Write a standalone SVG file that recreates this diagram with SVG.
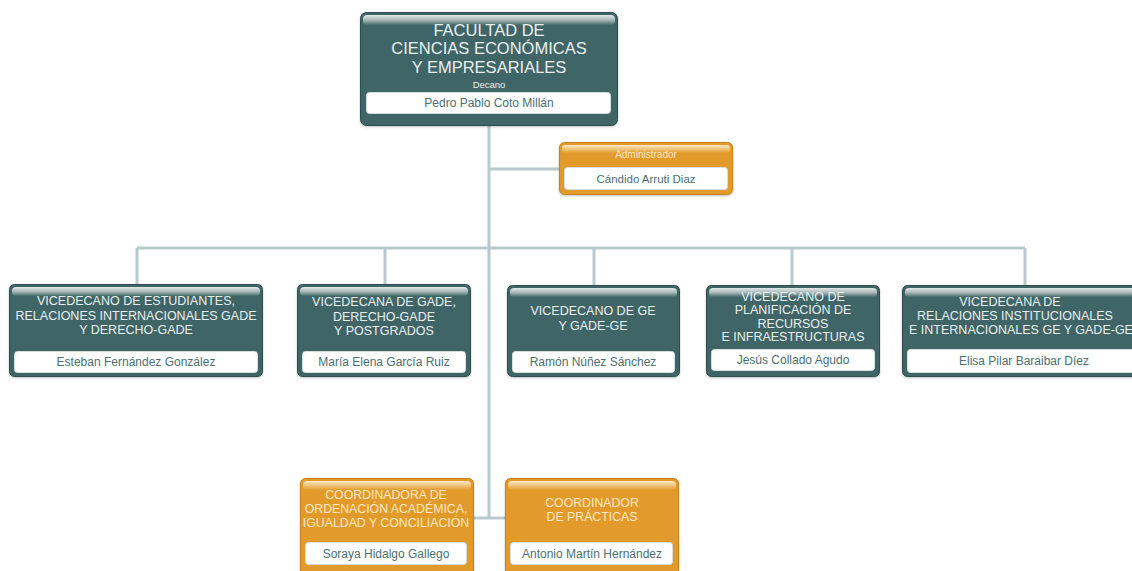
<svg xmlns="http://www.w3.org/2000/svg" width="1132" height="571" viewBox="0 0 1132 571">
<defs>
<linearGradient id="gT" x1="0" y1="0" x2="0" y2="1">
<stop offset="0" stop-color="#e2e7e7"/><stop offset="0.5" stop-color="#a9b9b9"/><stop offset="1" stop-color="#456a6b"/>
</linearGradient>
<linearGradient id="gO" x1="0" y1="0" x2="0" y2="1">
<stop offset="0" stop-color="#fde9c8"/><stop offset="0.5" stop-color="#f2c47a"/><stop offset="1" stop-color="#e29b2b"/>
</linearGradient>
<filter id="sh" x="-5%" y="-5%" width="110%" height="115%">
<feDropShadow dx="0" dy="1" stdDeviation="1" flood-color="#000" flood-opacity="0.25"/>
</filter>
</defs>
<style>
.t{fill:#3f6566;stroke:#2f4e4f;stroke-width:1;filter:url(#sh)}
.o{fill:#e29b2b;stroke:#c6821a;stroke-width:1;filter:url(#sh)}
.w{fill:#ffffff;stroke:#d6dede;stroke-width:1}
.tt{font-family:"Liberation Sans",Arial,sans-serif;font-size:12.5px;fill:#e8efef;text-anchor:middle}
.ot{font-family:"Liberation Sans",Arial,sans-serif;font-size:12.3px;fill:#fde6c4;text-anchor:middle}
.n{font-family:"Liberation Sans",Arial,sans-serif;font-size:12px;fill:#4a7072;text-anchor:middle}
.c{fill:none;stroke:#b9cacc;stroke-width:3}
</style>
<rect width="1132" height="571" fill="#ffffff"/>
<g id="connectors">
<path class="c" d="M489 125V518M489 169H560M137 248H1025M137 248V284M385 248V284M594 248V285M792 248V285M1025 248V285M473 518H505"/>
</g>
<g id="decano">
<rect class="t" x="360.5" y="12.5" width="257" height="113" rx="6"/>
<rect x="363" y="15" width="252" height="10" rx="4" fill="url(#gT)"/>
<text class="tt" x="489" y="36" style="font-size:16.5px">FACULTAD DE</text>
<text class="tt" x="489" y="54" style="font-size:16.5px">CIENCIAS ECONÓMICAS</text>
<text class="tt" x="489" y="73" style="font-size:16.5px">Y EMPRESARIALES</text>
<text class="tt" x="489" y="87.5" style="font-size:9.5px">Decano</text>
<rect class="w" x="366.5" y="92.5" width="244" height="21" rx="3"/>
<text class="n" x="489" y="107">Pedro Pablo Coto Millán</text>
</g>
<g id="administrador">
<rect class="o" x="559.5" y="142.5" width="173" height="52" rx="5"/>
<rect x="562" y="145" width="168" height="8" rx="3" fill="url(#gO)"/>
<text class="ot" x="646" y="158" style="font-size:10px">Administrador</text>
<rect class="w" x="564.5" y="167.5" width="163" height="22" rx="3"/>
<text class="n" x="646" y="183" style="font-size:11.5px">Cándido Arruti Diaz</text>
</g>
<g id="vice1">
<rect class="t" x="9.5" y="284.5" width="253" height="92" rx="5"/>
<rect x="12" y="287" width="248" height="9" rx="4" fill="url(#gT)"/>
<text class="tt" x="136" y="305">VICEDECANO DE ESTUDIANTES,</text>
<text class="tt" x="136" y="319.5">RELACIONES INTERNACIONALES GADE</text>
<text class="tt" x="136" y="334">Y DERECHO-GADE</text>
<rect class="w" x="14.5" y="351.5" width="243" height="21" rx="3"/>
<text class="n" x="136" y="366">Esteban Fernández González</text>
</g>
<g id="vice2">
<rect class="t" x="297.5" y="284.5" width="173" height="92" rx="5"/>
<rect x="300" y="287" width="168" height="9" rx="4" fill="url(#gT)"/>
<text class="tt" x="384" y="306">VICEDECANA DE GADE,</text>
<text class="tt" x="384" y="320.5">DERECHO-GADE</text>
<text class="tt" x="384" y="335">Y POSTGRADOS</text>
<rect class="w" x="302.5" y="351.5" width="163" height="21" rx="3"/>
<text class="n" x="384" y="366">María Elena García Ruiz</text>
</g>
<g id="vice3">
<rect class="t" x="507.5" y="285.5" width="172" height="91" rx="5"/>
<rect x="510" y="288" width="167" height="9" rx="4" fill="url(#gT)"/>
<text class="tt" x="593" y="315">VICEDECANO DE GE</text>
<text class="tt" x="593" y="329.5">Y GADE-GE</text>
<rect class="w" x="512.5" y="351.5" width="162" height="21" rx="3"/>
<text class="n" x="593" y="366">Ramón Núñez Sánchez</text>
</g>
<g id="vice4">
<rect class="t" x="706.5" y="285.5" width="173" height="91" rx="5"/>
<rect x="709" y="288" width="168" height="9" rx="4" fill="url(#gT)"/>
<text class="tt" x="793" y="300.5">VICEDECANO DE</text>
<text class="tt" x="793" y="314">PLANIFICACIÓN DE</text>
<text class="tt" x="793" y="327.5">RECURSOS</text>
<text class="tt" x="793" y="341">E INFRAESTRUCTURAS</text>
<rect class="w" x="711.5" y="349.5" width="163" height="21" rx="3"/>
<text class="n" x="793" y="364">Jesús Collado Agudo</text>
</g>
<g id="vice5">
<rect class="t" x="902.5" y="285.5" width="250" height="91" rx="5"/>
<rect x="905" y="288" width="245" height="9" rx="4" fill="url(#gT)"/>
<text class="tt" x="1010" y="306">VICEDECANA DE</text>
<text class="tt" x="1015" y="320">RELACIONES INSTITUCIONALES</text>
<text class="tt" x="1021" y="334">E INTERNACIONALES GE Y GADE-GE</text>
<rect class="w" x="907.5" y="349.5" width="240" height="23" rx="3"/>
<text class="n" x="1024" y="365">Elisa Pilar Baraibar Díez</text>
</g>
<g id="coord1">
<rect class="o" x="300.5" y="478.5" width="173" height="100" rx="5"/>
<rect x="303" y="481" width="168" height="9" rx="4" fill="url(#gO)"/>
<text class="ot" x="386" y="498.5">COORDINADORA DE</text>
<text class="ot" x="386" y="512.5">ORDENACIÓN ACADÉMICA,</text>
<text class="ot" x="386" y="526.5">IGUALDAD Y CONCILIACIÓN</text>
<rect class="w" x="305.5" y="542.5" width="161" height="22" rx="3"/>
<text class="n" x="386" y="557.5">Soraya Hidalgo Gallego</text>
</g>
<g id="coord2">
<rect class="o" x="505.5" y="478.5" width="173" height="100" rx="5"/>
<rect x="508" y="481" width="168" height="9" rx="4" fill="url(#gO)"/>
<text class="ot" x="592" y="507">COORDINADOR</text>
<text class="ot" x="592" y="521">DE PRÁCTICAS</text>
<rect class="w" x="510.5" y="542.5" width="162" height="22" rx="3"/>
<text class="n" x="592" y="557.5">Antonio Martín Hernández</text>
</g>
</svg>
